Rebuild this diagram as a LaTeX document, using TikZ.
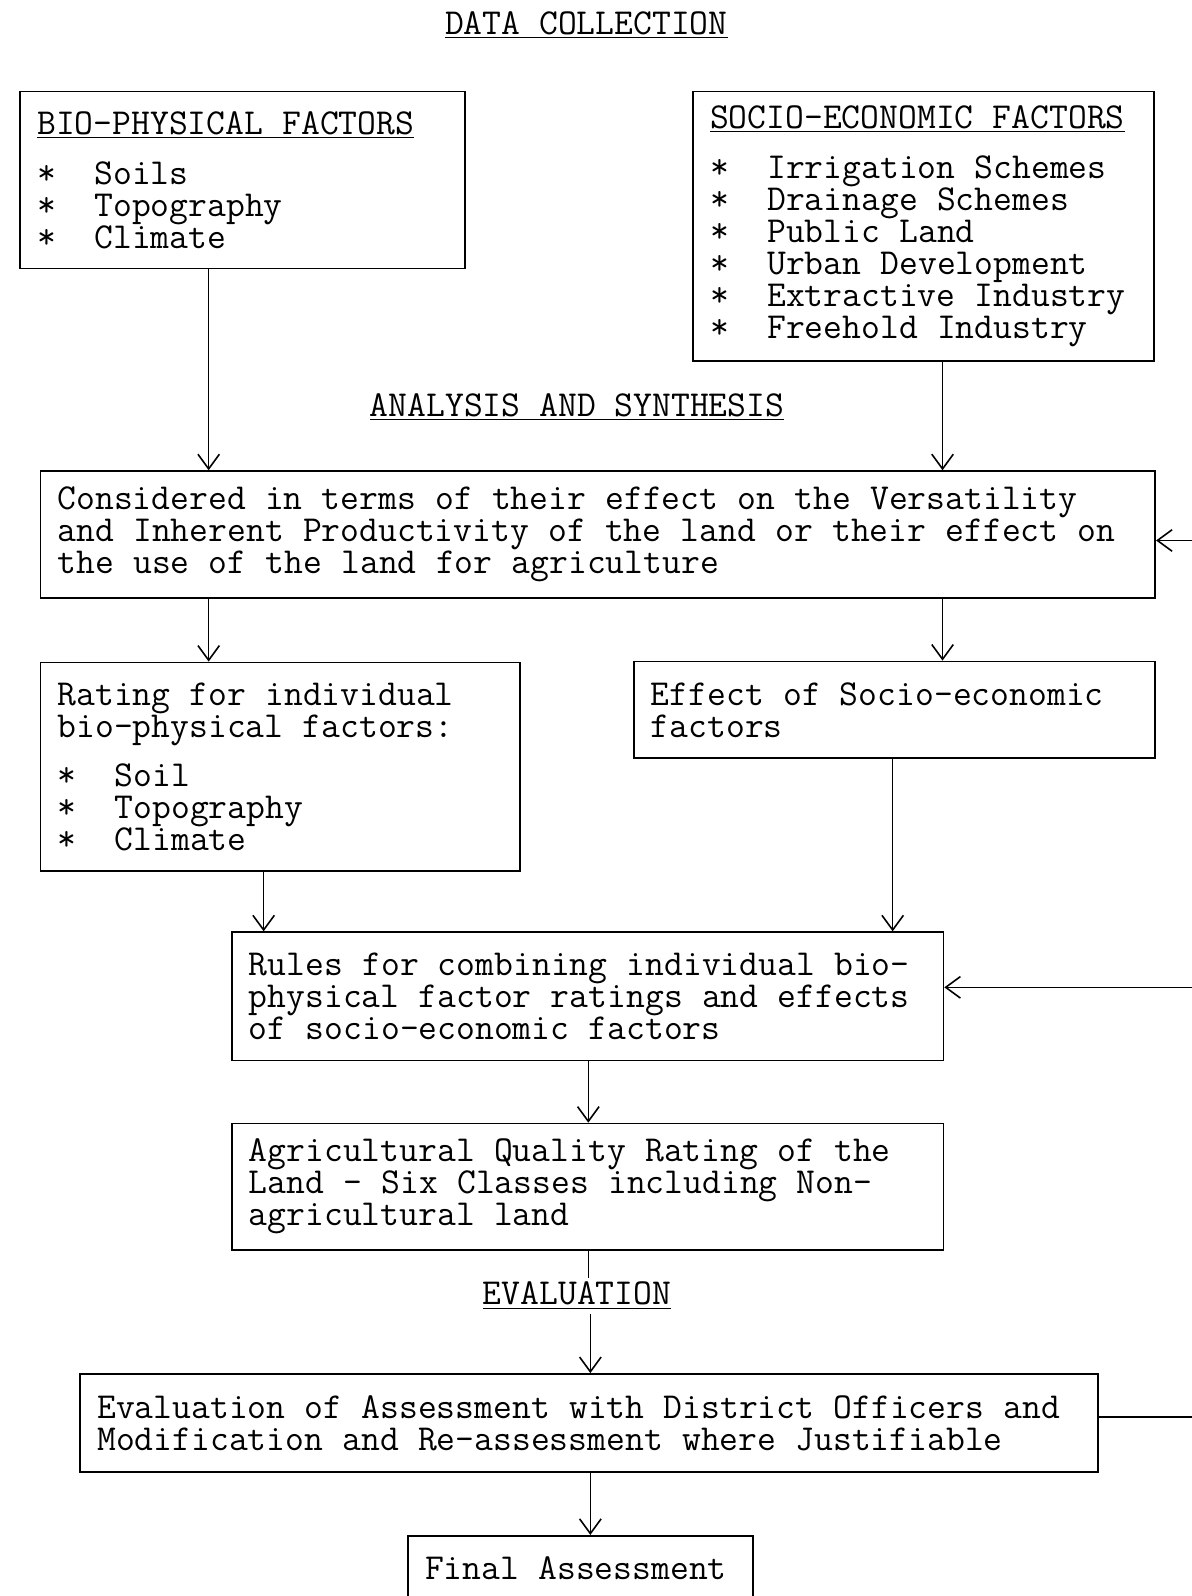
\documentclass[tikz,border=0pt]{standalone}
\usepackage{tikz}
\usetikzlibrary{arrows.meta}

\tikzset{
  tw/.style={font=\ttfamily\fontsize{18.4}{16.1}\selectfont},
  box/.style={tw, draw, line width=0.9pt, inner xsep=0.3cm, inner ysep=0pt, align=left, anchor=north west,
    execute at begin node={\spaceskip=0.525em\xspaceskip=0.525em\relax}},
  heading/.style={tw, inner sep=2pt},
  arr/.style={line width=0.8pt, -{Straight Barb[length=2.6mm, width=3.8mm]}},
  link/.style={line width=0.8pt},
}
\newcommand{\itm}{*~~}

\begin{document}
\begin{tikzpicture}
  \useasboundingbox (0,0) rectangle (21.078,-28.224);
  \clip (0,0) rectangle (21.078,-28.224);

  % section headings
  \node[heading] (collect) at (10.368,-0.45) {\underline{DATA COLLECTION}};
  \node[heading] (synth) at (10.206,-7.2) {\underline{ANALYSIS AND SYNTHESIS}};
  \node[heading] (evaltitle) at (10.206,-22.914) {\underline{EVALUATION}};

  % boxes
  \node[box, text width=7.266cm, minimum width=7.866cm, minimum height=3.132cm] (bio) at (0.342,-1.602)
    {\underline{BIO-PHYSICAL FACTORS}\\[9pt]
     \itm Soils\\ \itm Topography\\ \itm Climate};
  \node[box, text width=7.554cm, minimum width=8.154cm, minimum height=4.77cm] (socio) at (12.24,-1.602)
    {\underline{SOCIO-ECONOMIC FACTORS}\\[9pt]
     \itm Irrigation Schemes\\ \itm Drainage Schemes\\ \itm Public Land\\
     \itm Urban Development\\ \itm Extractive Industry\\ \itm Freehold Industry};
  \node[box, text width=19.11cm, minimum width=19.71cm, minimum height=2.25cm] (cons) at (0.702,-8.316)
    {Considered in terms of their effect on the Versatility\\
     and Inherent Productivity of the land or their effect on\\
     the use of the land for agriculture};
  \node[box, text width=7.878cm, minimum width=8.478cm, minimum height=3.69cm] (rating) at (0.702,-11.7)
    {Rating for individual\\ bio-physical factors:\\[8.5pt]
     \itm Soil\\ \itm Topography\\ \itm Climate};
  \node[box, text width=8.616cm, minimum width=9.216cm, minimum height=1.71cm] (effect) at (11.196,-11.682)
    {Effect of Socio-economic\\ factors};
  \node[box, text width=11.98cm, minimum width=12.582cm, minimum height=2.268cm] (rules) at (4.086,-16.47)
    {Rules for combining individual bio-\\
     physical factor ratings and effects\\
     of socio-economic factors};
  \node[box, text width=11.98cm, minimum width=12.582cm, minimum height=2.232cm] (agri) at (4.086,-19.854)
    {Agricultural Quality Rating of the\\
     Land - Six Classes including Non-\\
     agricultural land};
  \node[box, text width=17.4cm, minimum width=18cm, minimum height=1.728cm] (eval) at (1.404,-24.282)
    {Evaluation of Assessment with District Officers and\\
     Modification and Re-assessment where Justifiable};
  \node[box, text width=5.5cm, minimum width=6.102cm, minimum height=1.152cm] (final) at (7.2,-27.144)
    {Final Assessment};

  % feedback ends at the page edge
  \coordinate (fbcons) at (21.078,-9.558);
  \coordinate (fbrules) at (21.078,-17.46);
  \coordinate (fbeval) at (21.078,-25.056);

  % connectors
  \draw[arr] (3.69,0 |- bio.south) -- (3.69,0 |- cons.north);
  \draw[arr] (16.668,0 |- socio.south) -- (16.668,0 |- cons.north);
  \draw[arr] (3.69,0 |- cons.south) -- (3.69,0 |- rating.north);
  \draw[arr] (16.668,0 |- cons.south) -- (16.668,0 |- effect.north);
  \draw[arr] (4.662,0 |- rating.south) -- (4.662,0 |- rules.north);
  \draw[arr] (15.786,0 |- effect.south) -- (15.786,0 |- rules.north);
  \draw[arr] (10.404,0 |- rules.south) -- (10.404,0 |- agri.north);
  \draw[link] (10.404,0 |- agri.south) -- (10.404,0 |- evaltitle.north);
  \draw[arr] (10.44,0 |- evaltitle.south) -- (10.44,0 |- eval.north);
  \draw[arr] (10.44,0 |- eval.south) -- (10.44,0 |- final.north);

  \draw[link] (eval.east |- fbeval) -- (fbeval);
  \draw[arr] (fbcons) -- (fbcons -| cons.east);
  \draw[arr] (fbrules) -- (fbrules -| rules.east);
\end{tikzpicture}
\end{document}
